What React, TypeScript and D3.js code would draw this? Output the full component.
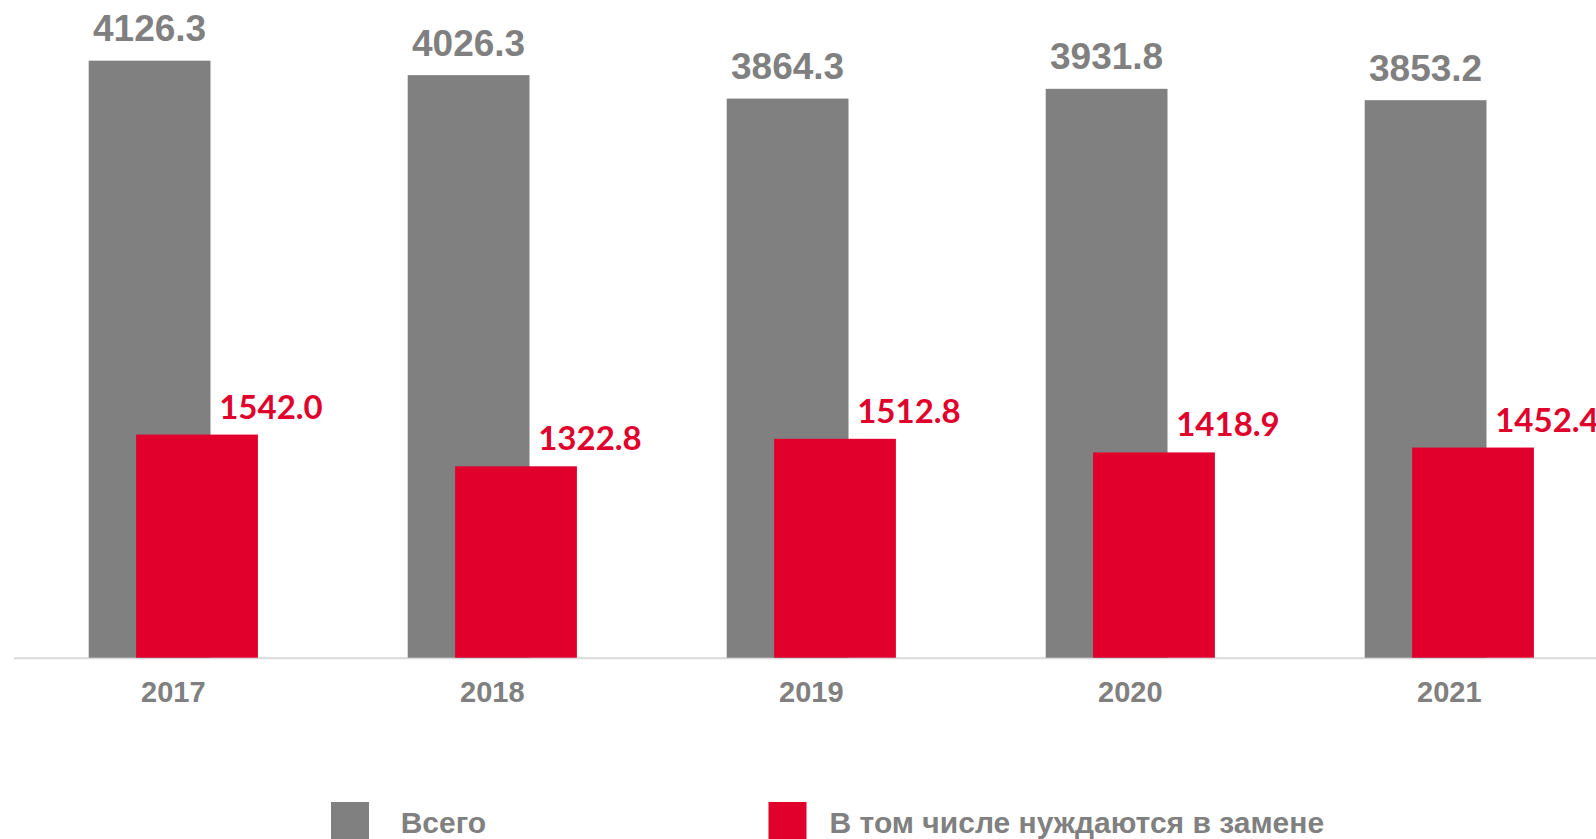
import { useEffect, useRef } from 'react';
import * as d3 from 'd3';

const years = ['2017', '2018', '2019', '2020', '2021'];
const totalValues = [4126.3, 4026.3, 3864.3, 3931.8, 3853.2];
const replaceValues = [1542.0, 1322.8, 1512.8, 1418.9, 1452.4];
const seriesNames = ['Всего', 'В том числе нуждаются в замене'];

const GRAY = '#808080';
const RED = '#E0002B';

const App = () => {
  const svgRef = useRef<SVGSVGElement>(null);

  useEffect(() => {
    document.body.style.margin = '0';
    const svg = d3.select(svgRef.current);
    svg.selectAll('*').remove();

    const width = 1596;
    const height = 839;
    svg.attr('width', width).attr('height', height);

    // category bands, the last one runs past the right edge
    const x = d3.scaleBand<string>()
      .domain(years)
      .range([13.8, 13.8 + 319 * years.length])
      .padding(0);

    const y = d3.scaleLinear()
      .domain([0, 4500])
      .range([657.7, 6.6]);

    const barW = 121.8;
    const shift = 47.4;
    const pairW = barW + shift;
    const grayX = (d: string) => x(d)! + x.bandwidth() / 2 - pairW / 2;
    const redX = (d: string) => grayX(d) + shift;

    const rows = years.map((yr, i) => ({ yr, total: totalValues[i], repl: replaceValues[i] }));

    // axis line
    svg.append('line')
      .attr('x1', 14)
      .attr('x2', width)
      .attr('y1', y(0) + 0.5)
      .attr('y2', y(0) + 0.5)
      .attr('stroke', '#d9d9d9')
      .attr('stroke-width', 2);

    svg.append('g')
      .selectAll('rect')
      .data(rows)
      .join('rect')
      .attr('x', d => grayX(d.yr))
      .attr('y', d => y(d.total))
      .attr('width', barW)
      .attr('height', d => y(0) - y(d.total))
      .attr('fill', GRAY);

    svg.append('g')
      .selectAll('rect')
      .data(rows)
      .join('rect')
      .attr('x', d => redX(d.yr))
      .attr('y', d => y(d.repl))
      .attr('width', barW)
      .attr('height', d => y(0) - y(d.repl))
      .attr('fill', RED);

    // value labels
    svg.append('g')
      .selectAll('text')
      .data(rows)
      .join('text')
      .attr('x', d => grayX(d.yr) + barW / 2)
      .attr('y', d => y(d.total) - 19.5)
      .attr('text-anchor', 'middle')
      .style('font-family', '"Liberation Sans", Arial, sans-serif')
      .style('font-weight', 700)
      .style('font-size', '37px')
      .attr('fill', GRAY)
      .text(d => d.total.toFixed(1));

    svg.append('g')
      .selectAll('text')
      .data(rows)
      .join('text')
      .attr('x', d => redX(d.yr) + barW / 2 + 74)
      .attr('y', d => y(d.repl) - 16)
      .attr('text-anchor', 'middle')
      .style('font-family', 'Lato, "Open Sans", sans-serif')
      .style('font-weight', 700)
      .style('font-size', '33px')
      .attr('fill', RED)
      .text(d => d.repl.toFixed(1));

    // category labels
    svg.append('g')
      .selectAll('text')
      .data(years)
      .join('text')
      .attr('x', d => x(d)! + x.bandwidth() / 2)
      .attr('y', 702.3)
      .attr('text-anchor', 'middle')
      .style('font-family', '"Liberation Sans", Arial, sans-serif')
      .style('font-weight', 700)
      .style('font-size', '29px')
      .attr('fill', GRAY)
      .text(d => d);

    // legend
    const legendPos = [
      { sx: 331, tx: 400.7, color: GRAY },
      { sx: 768.5, tx: 829.6, color: RED },
    ];
    const legend = svg.append('g')
      .selectAll('g')
      .data(seriesNames)
      .join('g');
    legend.append('rect')
      .attr('x', (_, i) => legendPos[i].sx)
      .attr('y', 802)
      .attr('width', 38)
      .attr('height', 38)
      .attr('fill', (_, i) => legendPos[i].color);
    legend.append('text')
      .attr('x', (_, i) => legendPos[i].tx)
      .attr('y', 833.3)
      .style('font-family', '"Liberation Sans", Arial, sans-serif')
      .style('font-weight', 700)
      .style('font-size', '30px')
      .attr('fill', GRAY)
      .text(d => d);
  }, []);

  return (
    <div>
      <svg ref={svgRef} style={{ display: 'block' }}></svg>
    </div>
  );
};

export default App;
